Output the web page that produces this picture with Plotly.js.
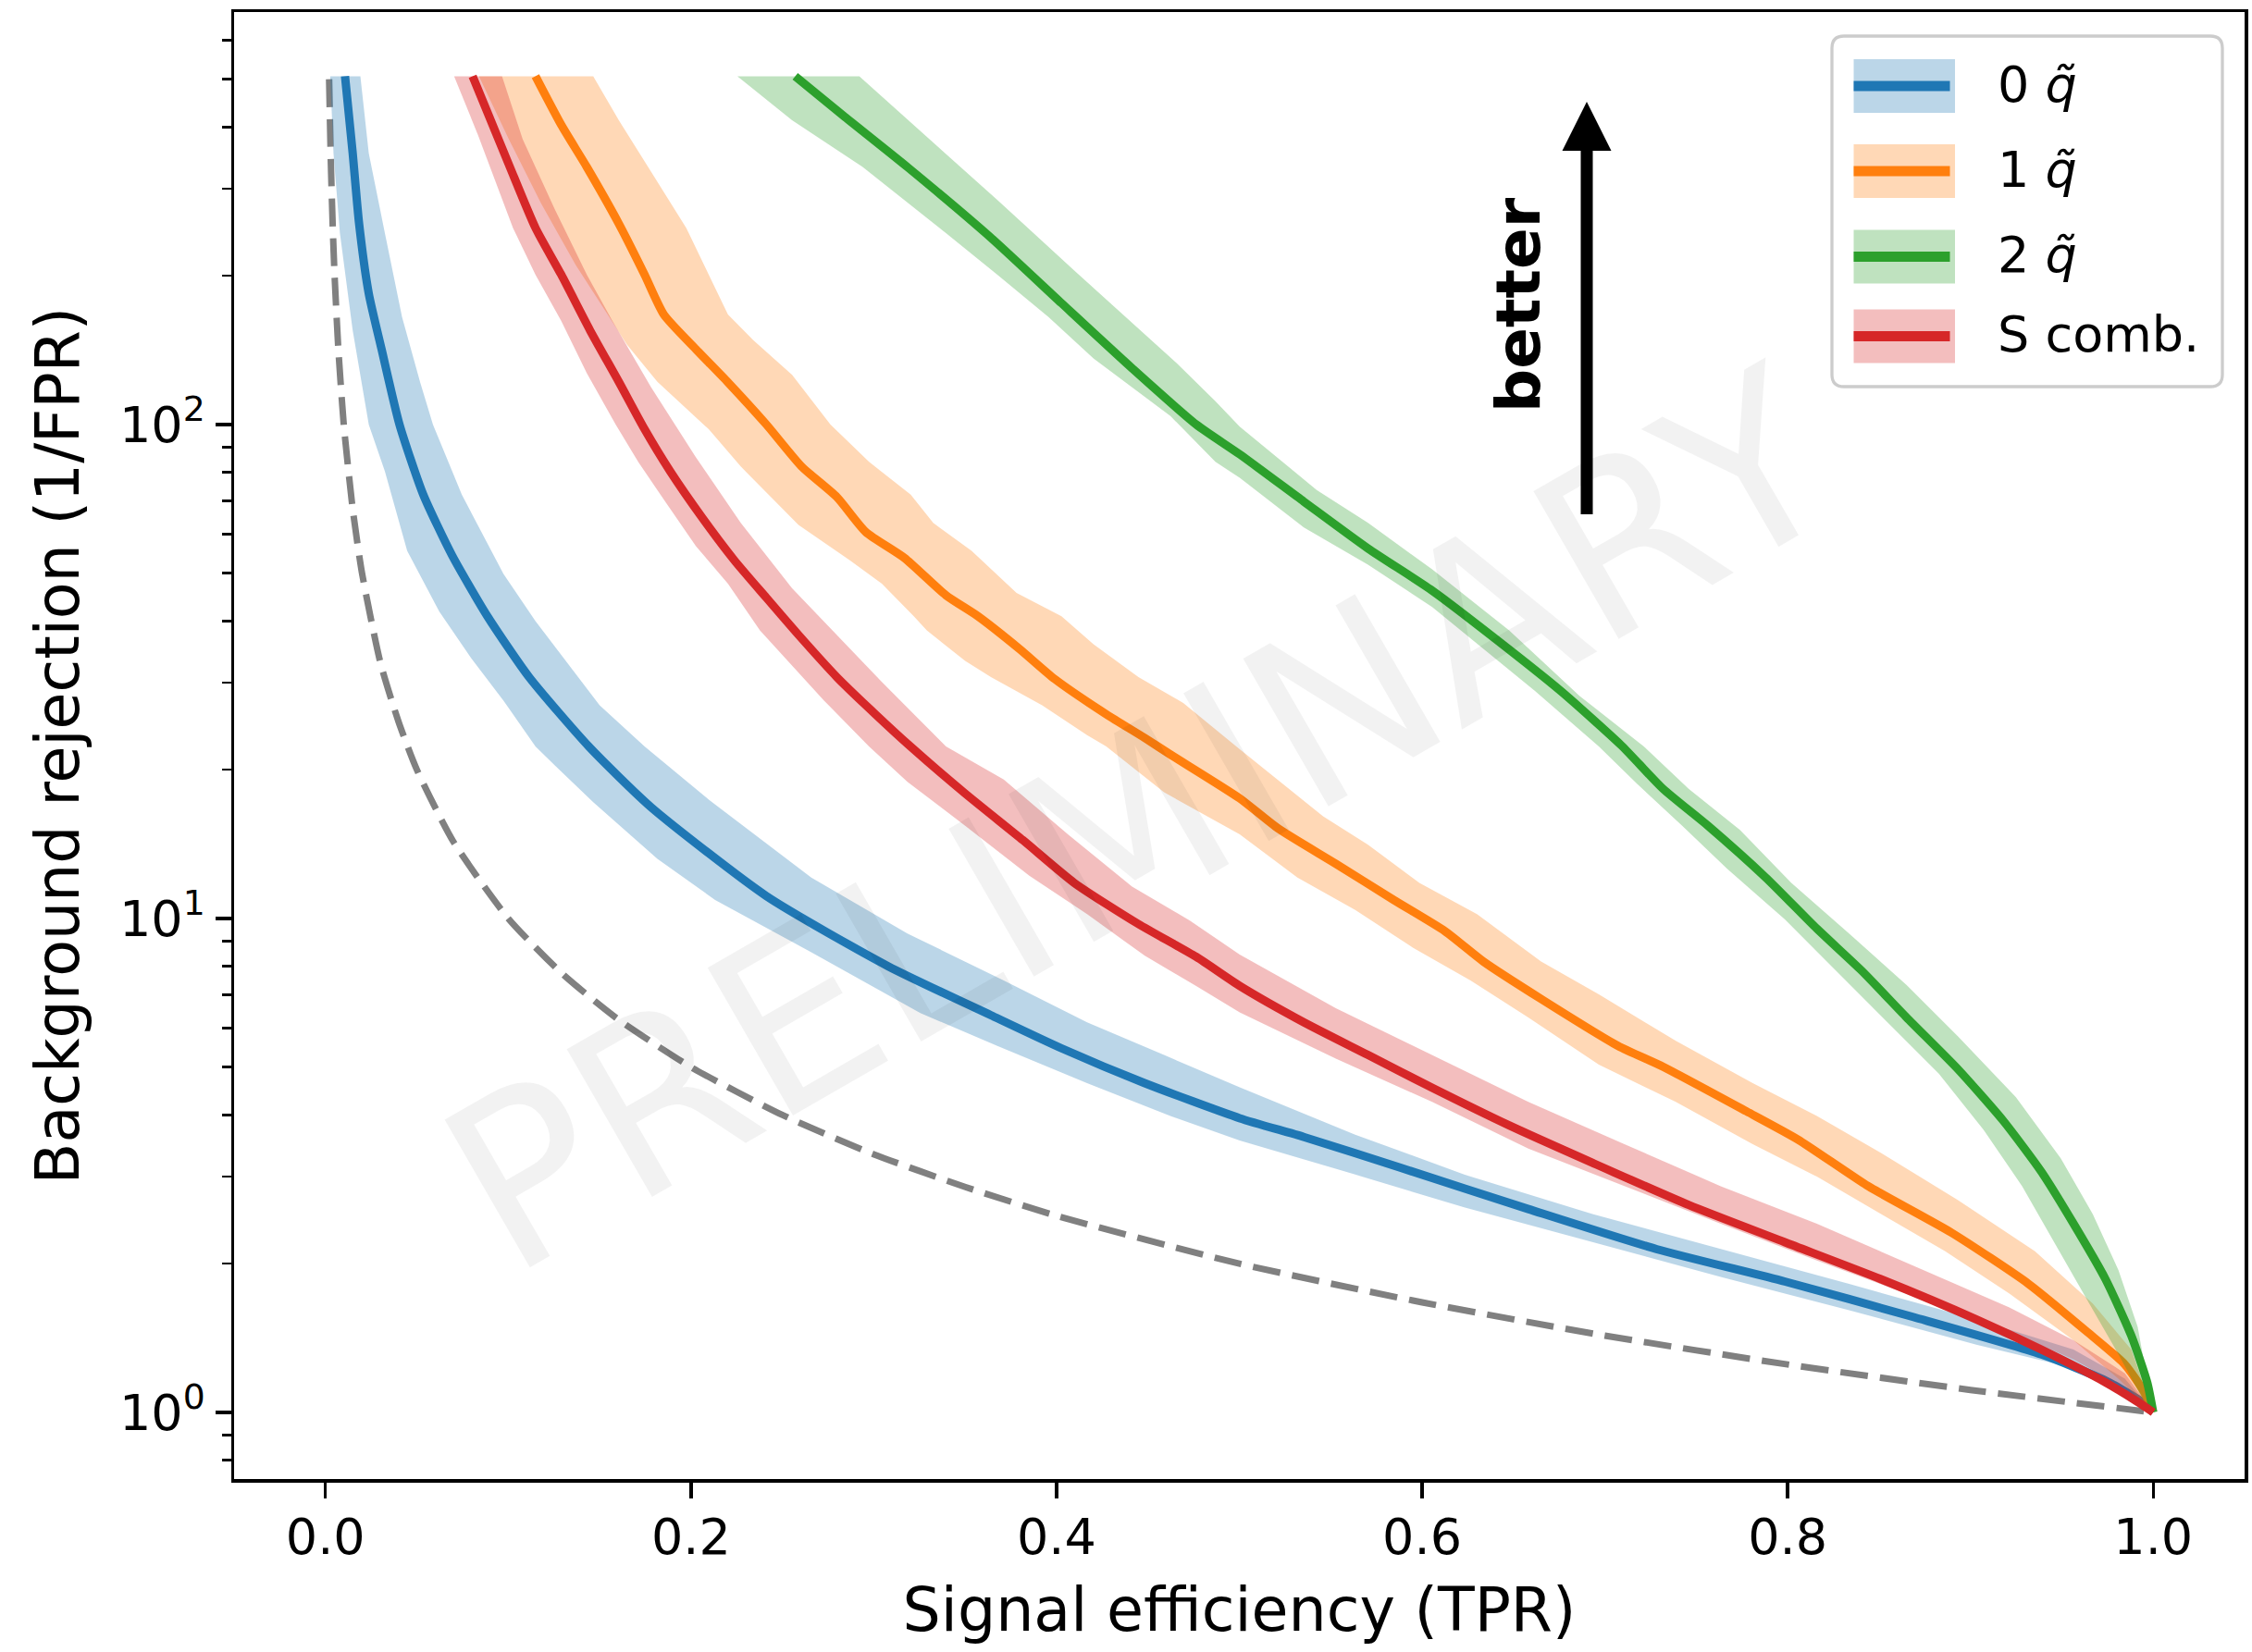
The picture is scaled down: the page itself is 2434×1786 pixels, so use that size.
<!DOCTYPE html>
<html><head><meta charset="utf-8">
<script src="https://cdn.plot.ly/plotly-3.0.1.min.js"></script>
<style>html,body{margin:0;padding:0;background:#fff}#chart{width:2434px;height:1786px}</style>
</head><body><div id="chart"></div>
<script>
// ---------------- data ----------------
const seriesNames = ['0 <i>q\u0303</i>', '1 <i>q\u0303</i>', '2 <i>q\u0303</i>', 'S comb.'];
const seriesColors = ['#1f77b4', '#ff7f0e', '#2ca02c', '#d62728'];
const bandColors = ['rgba(31,119,180,0.3)', 'rgba(255,127,14,0.3)', 'rgba(44,160,44,0.3)', 'rgba(214,39,40,0.3)'];

// random-classifier reference (dashed)
const randomTPR = [0.002, 0.003, 0.004, 0.005, 0.007, 0.01, 0.015, 0.02, 0.03, 0.04, 0.05, 0.07, 0.1, 0.13, 0.16, 0.2, 0.25, 0.3, 0.35, 0.4, 0.5, 0.6, 0.7, 0.8, 0.9, 1.0];
const randomRej = [500, 333, 250, 200, 143, 100, 67, 50, 33, 25, 20, 14.3, 10, 7.7, 6.25, 5, 4, 3.33, 2.86, 2.5, 2, 1.67, 1.43, 1.25, 1.11, 1];

// 0 q~ (blue)
const q0TPR = [0.0107, 0.0149, 0.0184, 0.0237, 0.0307, 0.0405, 0.0535, 0.0693, 0.0886, 0.1114, 0.1440, 0.1781, 0.2412, 0.3079, 0.3640, 0.4026, 0.4482, 0.5002, 0.5353, 0.5879, 0.6581, 0.7283, 0.7985, 0.8686, 0.9388, 0.9739, 0.9915, 1.0];
const q0Rej = [507, 354, 255, 184, 142, 100, 72.1, 54.3, 40.9, 30.8, 22.3, 16.8, 11.1, 8.0, 6.37, 5.46, 4.64, 3.94, 3.61, 3.13, 2.58, 2.14, 1.84, 1.56, 1.31, 1.16, 1.064, 1.0];
const q0UpTPR = [0.0191, 0.0237, 0.0325, 0.0419, 0.0518, 0.0588, 0.0746, 0.0974, 0.1149, 0.1342, 0.1500, 0.1746, 0.2097, 0.2658, 0.3184, 0.3711, 0.4167, 0.4588, 0.5002, 0.5634, 0.6230, 0.6932, 0.7634, 0.8336, 0.9037, 0.9564, 0.9845, 1.0];
const q0UpRej = [507, 354, 244, 165, 121.7, 100, 72.1, 49.8, 40.0, 32.2, 27.0, 22.3, 17.4, 12.1, 9.32, 7.49, 6.16, 5.29, 4.55, 3.65, 3.03, 2.52, 2.14, 1.82, 1.54, 1.34, 1.17, 1.0];
const q0LoTPR = [0.0026, 0.0044, 0.0079, 0.0149, 0.0237, 0.0325, 0.0447, 0.0623, 0.0798, 0.0974, 0.1149, 0.1255, 0.1465, 0.1816, 0.2132, 0.2658, 0.3255, 0.3676, 0.4167, 0.4623, 0.5002, 0.5634, 0.6230, 0.6932, 0.7634, 0.8336, 0.9037, 0.9564, 0.9845, 1.0];
const q0LoRej = [507, 354, 244, 155, 100, 80.4, 55.5, 41.8, 33.6, 27.6, 22.3, 20.4, 17.2, 13.2, 10.9, 8.54, 6.43, 5.52, 4.64, 3.98, 3.55, 3.03, 2.60, 2.21, 1.88, 1.61, 1.37, 1.23, 1.10, 1.0];

// 1 q~ (orange)
const q1TPR = [0.1149, 0.1290, 0.1430, 0.1605, 0.1746, 0.1851, 0.2027, 0.2202, 0.2412, 0.2605, 0.2798, 0.2956, 0.3167, 0.3395, 0.3570, 0.3798, 0.3991, 0.4272, 0.4482, 0.4620, 0.5002, 0.5213, 0.5528, 0.5844, 0.6125, 0.6335, 0.6651, 0.7072, 0.7318, 0.7774, 0.8055, 0.8441, 0.8897, 0.9318, 0.9634, 0.9845, 0.9950, 1.0];
const q1Rej = [507, 404, 332, 255, 201, 167, 142, 121.7, 100, 82.2, 71.3, 60.6, 53.7, 45.1, 40.9, 35.1, 30.5, 25.9, 23.2, 21.5, 17.5, 15.2, 12.9, 10.9, 9.42, 8.18, 6.87, 5.52, 5.01, 4.07, 3.57, 2.87, 2.31, 1.82, 1.46, 1.25, 1.10, 1.0];
const q1UpTPR = [0.1465, 0.1605, 0.1781, 0.1974, 0.2097, 0.2202, 0.2342, 0.2553, 0.2763, 0.2974, 0.3202, 0.3325, 0.3535, 0.3781, 0.4027, 0.4202, 0.4448, 0.4693, 0.5002, 0.5458, 0.5704, 0.5985, 0.6300, 0.6651, 0.6967, 0.7388, 0.7809, 0.8160, 0.8511, 0.8932, 0.9353, 0.9669, 0.9880, 1.0];
const q1UpRej = [507, 413, 325, 250, 201, 167, 148, 126, 100, 84, 72.1, 63.2, 55.5, 45.6, 40.9, 35.9, 30.8, 27.3, 22.0, 16.1, 14.1, 11.8, 10.2, 8.18, 7.02, 5.65, 4.64, 3.98, 3.35, 2.69, 2.12, 1.66, 1.34, 1.0];
const q1LoTPR = [0.0840, 0.1000, 0.1180, 0.1370, 0.1530, 0.1650, 0.1816, 0.2097, 0.2272, 0.2588, 0.2869, 0.3044, 0.3219, 0.3290, 0.3500, 0.3641, 0.3921, 0.4167, 0.4272, 0.4588, 0.5002, 0.5318, 0.5634, 0.5949, 0.6265, 0.6581, 0.6967, 0.7388, 0.7809, 0.8160, 0.8511, 0.8862, 0.9213, 0.9564, 0.9809, 1.0];
const q1LoRej = [507, 380, 280, 210, 170, 145, 122, 97.8, 82.2, 62.6, 53.1, 47.6, 40.9, 38.3, 33.2, 30.8, 27.0, 23.5, 22.3, 18.0, 14.8, 12.1, 10.4, 8.73, 7.49, 6.30, 5.06, 4.25, 3.49, 3.00, 2.52, 2.12, 1.74, 1.40, 1.17, 1.0];

// 2 q~ (green)
const q2TPR = [0.2570, 0.2833, 0.3184, 0.3640, 0.4027, 0.4413, 0.4764, 0.5002, 0.5353, 0.5704, 0.6055, 0.6406, 0.6757, 0.7090, 0.7318, 0.7564, 0.7880, 0.8160, 0.8406, 0.8651, 0.8932, 0.9178, 0.9388, 0.9564, 0.9739, 0.9880, 0.9967, 1.0];
const q2Rej = [507, 422, 332, 239, 176, 130, 100, 87, 69.8, 56.1, 46.1, 36.7, 28.9, 22.4, 18.3, 15.4, 12.1, 9.53, 7.83, 6.30, 4.95, 3.90, 3.07, 2.41, 1.86, 1.43, 1.15, 1.0];
const q2UpTPR = [0.2921, 0.3219, 0.3675, 0.4097, 0.4378, 0.4658, 0.4869, 0.5002, 0.5423, 0.5704, 0.6055, 0.6476, 0.6862, 0.7213, 0.7458, 0.7739, 0.8020, 0.8336, 0.8651, 0.8932, 0.9248, 0.9494, 0.9669, 0.9810, 0.9915, 1.0];
const q2UpRej = [507, 404, 285, 205, 165, 133, 111.5, 99, 73.7, 63.2, 50.9, 38.3, 28.2, 22.3, 18.3, 15.1, 11.8, 9.32, 7.33, 5.77, 4.35, 3.27, 2.52, 1.94, 1.49, 1.0];
const q2LoTPR = [0.2254, 0.2553, 0.2939, 0.3395, 0.3676, 0.3956, 0.4202, 0.4413, 0.4623, 0.4869, 0.5002, 0.5353, 0.5704, 0.6055, 0.6335, 0.6616, 0.6967, 0.7178, 0.7423, 0.7669, 0.7985, 0.8265, 0.8546, 0.8827, 0.9072, 0.9283, 0.9458, 0.9634, 0.9810, 0.9950, 1.0];
const q2LoRej = [507, 413, 332, 244, 201, 165, 136, 119, 104, 84, 78, 61.9, 52, 42.7, 35.1, 28.9, 22.3, 18.7, 15.4, 12.6, 9.95, 7.83, 6.16, 4.85, 3.73, 2.87, 2.21, 1.70, 1.31, 1.05, 1.0];

// S comb. (red)
const sTPR = [0.0805, 0.0904, 0.1009, 0.1149, 0.1290, 0.1448, 0.1605, 0.1746, 0.1886, 0.2062, 0.2237, 0.2412, 0.2588, 0.2798, 0.3009, 0.3200, 0.3500, 0.3816, 0.4097, 0.4448, 0.4764, 0.5002, 0.5353, 0.5704, 0.6055, 0.6476, 0.6932, 0.7458, 0.7985, 0.8511, 0.9037, 0.9388, 0.9739, 0.9915, 1.0];
const sRej = [507, 413, 332, 250, 201, 155, 122, 97.8, 80.4, 64.7, 53.1, 44.6, 37.5, 30.8, 25.9, 22.3, 17.9, 14.4, 11.8, 9.74, 8.36, 7.3, 6.16, 5.29, 4.54, 3.81, 3.20, 2.63, 2.21, 1.86, 1.54, 1.34, 1.15, 1.05, 1.0];
const sUpTPR = [0.0966, 0.1079, 0.1254, 0.1430, 0.1570, 0.1676, 0.1781, 0.2027, 0.2272, 0.2553, 0.2798, 0.3044, 0.3395, 0.3711, 0.4062, 0.4413, 0.4729, 0.5002, 0.5528, 0.6055, 0.6581, 0.7107, 0.7634, 0.8160, 0.8686, 0.9213, 0.9564, 0.9845, 1.0];
const sUpRej = [507, 378, 273, 201, 162, 139, 119, 85.8, 63.2, 46.6, 37.5, 30.1, 22.3, 19.1, 14.8, 11.6, 9.9, 8.45, 6.58, 5.29, 4.25, 3.49, 2.87, 2.41, 1.98, 1.63, 1.40, 1.20, 1.0];
const sLoTPR = [0.0704, 0.0834, 0.0939, 0.1026, 0.1149, 0.1290, 0.1430, 0.1588, 0.1711, 0.1851, 0.2027, 0.2202, 0.2377, 0.2518, 0.2728, 0.2974, 0.3184, 0.3500, 0.3851, 0.4167, 0.4483, 0.4764, 0.5002, 0.5528, 0.6055, 0.6581, 0.7107, 0.7634, 0.8160, 0.8686, 0.9213, 0.9564, 0.9845, 1.0];
const sLoRej = [507, 386, 304, 250, 201, 162, 127, 100, 84, 70.5, 56.7, 47.6, 38.3, 33.6, 27.6, 22.3, 18.9, 15.4, 12.2, 10.2, 8.4, 7.3, 6.45, 5.2, 4.25, 3.42, 2.87, 2.41, 2.03, 1.72, 1.46, 1.28, 1.12, 1.0];

// axis ticks
const xTickVals = [0.0, 0.2, 0.4, 0.6, 0.8, 1.0];
const xTickText = ['0.0', '0.2', '0.4', '0.6', '0.8', '1.0'];
const yTickVals = [1, 10, 100];
const yTickText = ['10<sup>0</sup>', '10<sup>1</sup>', '10<sup>2</sup>'];
const yMinorMantissa = [2, 3, 4, 5, 6, 7, 8, 9];
const yMinorDecades = [0.1, 1, 10, 100];

// ---------------- build ----------------
const FONT = 'DejaVu Sans, Verdana, sans-serif';
const PL = 253, PR = 2426, PT = 13, PB = 1599;
const fx = v => (v - PL) / (PR - PL);
const fy = v => (PB - v) / (PB - PT);

const yMinor = [];
yMinorDecades.forEach(d => yMinorMantissa.forEach(m => {
  const v = +(m * d).toPrecision(3);
  if (v > 0.74 && v < 680) yMinor.push(v);
}));

const series = [
  {c: q0TPR, cy: q0Rej, ux: q0UpTPR, uy: q0UpRej, lx: q0LoTPR, ly: q0LoRej},
  {c: q1TPR, cy: q1Rej, ux: q1UpTPR, uy: q1UpRej, lx: q1LoTPR, ly: q1LoRej},
  {c: q2TPR, cy: q2Rej, ux: q2UpTPR, uy: q2UpRej, lx: q2LoTPR, ly: q2LoRej},
  {c: sTPR, cy: sRej, ux: sUpTPR, uy: sUpRej, lx: sLoTPR, ly: sLoRej}
];

const traces = [{
  x: randomTPR, y: randomRej, type: 'scatter', mode: 'lines',
  line: {color: '#808080', width: 7, dash: '30px,13px', shape: 'spline', smoothing: 0.6},
  showlegend: false, hoverinfo: 'skip'
}];
series.forEach((s, i) => {
  traces.push({
    x: s.ux.concat(s.lx.slice().reverse()),
    y: s.uy.concat(s.ly.slice().reverse()),
    type: 'scatter', mode: 'lines', fill: 'toself', fillcolor: bandColors[i],
    line: {width: 0, color: bandColors[i]}, showlegend: false, hoverinfo: 'skip'
  });
  traces.push({
    x: s.c, y: s.cy, type: 'scatter', mode: 'lines', name: seriesNames[i],
    line: {color: seriesColors[i], width: 9, shape: 'spline', smoothing: 0.6},
    showlegend: false
  });
});

// legend (drawn manually to match matplotlib look)
const shapes = [];
const annotations = [];
const lgL = 1980, lgR = 2402, lgT = 39, lgB = 418, rad = 13;
const rx = rad / (PR - PL), ry = rad / (PB - PT);
const x0 = fx(lgL), x1 = fx(lgR), y0 = fy(lgB), y1 = fy(lgT);
shapes.push({
  type: 'path', xref: 'paper', yref: 'paper',
  path: `M ${x0 + rx} ${y1} L ${x1 - rx} ${y1} Q ${x1} ${y1} ${x1} ${y1 - ry} L ${x1} ${y0 + ry} Q ${x1} ${y0} ${x1 - rx} ${y0} L ${x0 + rx} ${y0} Q ${x0} ${y0} ${x0} ${y0 + ry} L ${x0} ${y1 - ry} Q ${x0} ${y1} ${x0 + rx} ${y1} Z`,
  fillcolor: 'rgba(255,255,255,0.8)', line: {color: '#cccccc', width: 3.3}
});
const rowCenters = [93, 185, 277.5, 363.5];
seriesNames.forEach((nm, i) => {
  const yc = rowCenters[i];
  shapes.push({type: 'rect', xref: 'paper', yref: 'paper',
    x0: fx(2003.5), x1: fx(2113), y0: fy(yc + 29), y1: fy(yc - 29),
    fillcolor: bandColors[i], line: {width: 0}});
  shapes.push({type: 'line', xref: 'paper', yref: 'paper',
    x0: fx(2003.5), x1: fx(2107.5), y0: fy(yc), y1: fy(yc),
    line: {color: seriesColors[i], width: 11}});
  annotations.push({xref: 'paper', yref: 'paper', x: fx(2157), y: fy(yc - 2),
    xanchor: 'left', yanchor: 'middle', showarrow: false, text: nm,
    font: {family: FONT, size: 54, color: '#000'}});
});

// "better" arrow
const ax = fx(1715);
shapes.push({type: 'line', xref: 'paper', yref: 'paper', x0: ax, x1: ax, y0: fy(556), y1: fy(160),
  line: {color: '#000', width: 13}});
shapes.push({type: 'path', xref: 'paper', yref: 'paper',
  path: `M ${fx(1715 - 26.5)} ${fy(163)} L ${fx(1715 + 26.5)} ${fy(163)} L ${ax} ${fy(110)} Z`,
  fillcolor: '#000', line: {width: 0}});
annotations.push({xref: 'paper', yref: 'paper', x: fx(1642), y: fy(330), textangle: -90,
  showarrow: false, text: '<b>better</b>', xanchor: 'center', yanchor: 'middle',
  font: {family: FONT, size: 66, color: '#000'}});

// watermark
annotations.push({xref: 'paper', yref: 'paper', x: fx(1232), y: fy(888), textangle: -30,
  showarrow: false, text: 'PRELIMINARY', xanchor: 'center', yanchor: 'middle',
  font: {family: FONT, size: 253, color: 'rgba(0,0,0,0.05)'}});

const layout = {
  width: 2434, height: 1786,
  margin: {l: PL, r: 2434 - PR, t: PT, b: 1786 - PB, pad: 0},
  paper_bgcolor: '#fff', plot_bgcolor: '#fff',
  showlegend: false,
  font: {family: FONT, size: 54, color: '#000'},
  xaxis: {
    range: [-0.05, 1.05], showgrid: false, zeroline: false,
    tickmode: 'array', tickvals: xTickVals, ticktext: xTickText,
    ticks: 'outside', ticklen: 17, tickwidth: 3.3, tickcolor: '#000',
    ticklabelstandoff: -4,
    showline: true, linecolor: '#000', linewidth: 3.5, mirror: true,
    tickfont: {family: FONT, size: 54, color: '#000'},
    title: {text: 'Signal efficiency (TPR)', font: {family: FONT, size: 65, color: '#000'}, standoff: 26},
    automargin: false
  },
  yaxis: {
    type: 'log', range: [-0.135, 2.835], showgrid: false, zeroline: false,
    tickmode: 'array', tickvals: yTickVals, ticktext: yTickText,
    ticks: 'outside', ticklen: 17, tickwidth: 3.3, tickcolor: '#000',
    minor: {tickmode: 'array', tickvals: yMinor, ticks: 'outside', ticklen: 10, tickwidth: 2.6, tickcolor: '#000', showgrid: false},
    showline: true, linecolor: '#000', linewidth: 3.5, mirror: true,
    tickfont: {family: FONT, size: 54, color: '#000'},
    title: {text: 'Background rejection (1/FPR)', font: {family: FONT, size: 65, color: '#000'}, standoff: 23},
    automargin: false
  },
  shapes: shapes,
  annotations: annotations
};

Plotly.newPlot('chart', traces, layout, {displayModeBar: false, staticPlot: true});
</script></body></html>
